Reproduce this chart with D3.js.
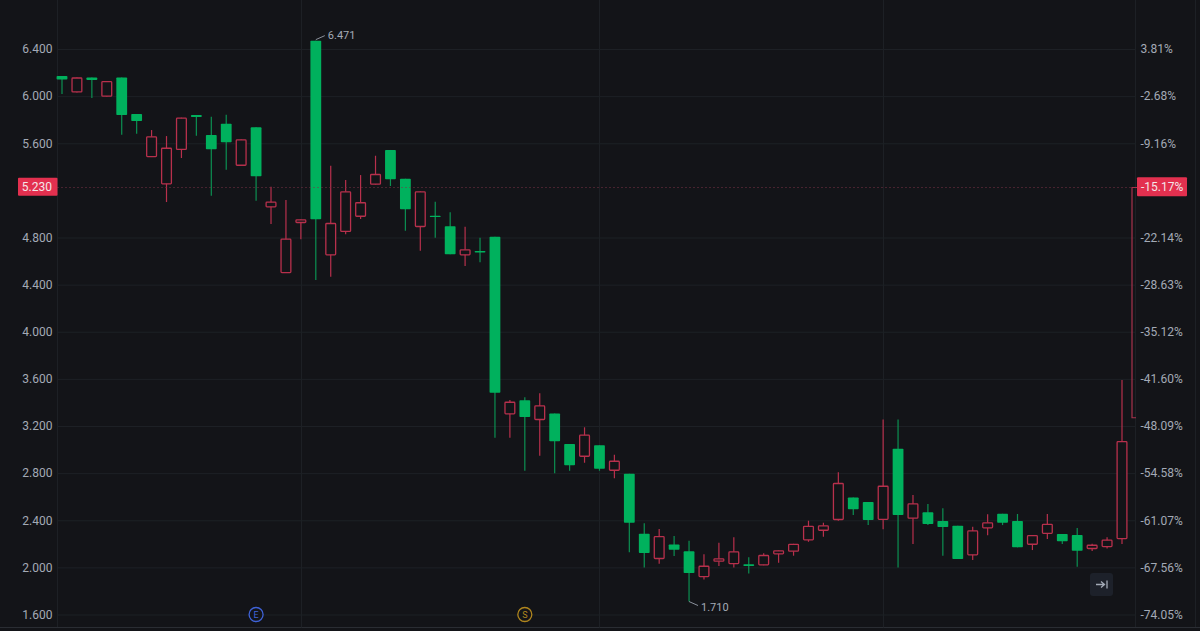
<!DOCTYPE html>
<html>
<head>
<meta charset="utf-8">
<script src="https://cdn.jsdelivr.net/npm/d3@7"></script>
<style>
  html, body { margin: 0; padding: 0; background: #131418; overflow: hidden; }
  text { font-family: Roboto, sans-serif; font-size: 12px; }
  .axis path { display: none; }
  .axis line { stroke: #1d2025; }
  .axis text { fill: #a3aab6; }
</style>
</head>
<body>
<svg id="chart" width="1200" height="631"></svg>
<script>
const opens = [6.171,6.031,6.158,5.995,6.158,5.848,5.483,5.251,5.543,5.840,5.670,5.766,5.409,5.735,5.056,4.498,4.923,6.471,4.649,4.847,4.976,5.248,5.543,5.299,4.889,4.985,4.895,4.649,4.685,4.807,3.299,3.418,3.251,3.307,3.047,2.939,3.036,2.820,2.795,2.285,2.071,2.195,2.136,1.918,2.048,2.028,2.026,2.017,2.110,2.133,2.229,2.311,2.402,2.594,2.555,2.404,3.007,2.413,2.467,2.393,2.353,2.102,2.331,2.455,2.393,2.192,2.285,2.283,2.274,2.156,2.172,2.240]
const closes = [6.141,6.158,6.137,6.128,5.840,5.789,5.659,5.562,5.817,5.823,5.549,5.608,5.633,5.319,5.104,4.790,4.954,4.954,4.923,5.192,5.099,5.339,5.294,5.039,5.192,4.974,4.657,4.700,4.674,3.482,3.406,3.276,3.375,3.070,2.866,3.126,2.837,2.905,2.379,2.122,2.266,2.150,1.952,2.014,2.077,2.136,2.011,2.105,2.144,2.200,2.353,2.357,2.716,2.493,2.402,2.693,2.444,2.543,2.368,2.342,2.071,2.314,2.382,2.379,2.170,2.274,2.370,2.221,2.141,2.192,2.235,3.072]
const highs = [6.171,6.158,6.158,6.128,6.158,5.848,5.712,5.661,5.817,5.840,5.825,5.842,5.633,5.735,5.231,5.118,4.954,6.471,5.409,5.288,5.330,5.494,5.543,5.299,5.192,5.104,5.014,4.892,4.798,4.807,3.420,3.443,3.477,3.307,3.047,3.189,3.036,2.956,2.795,2.374,2.325,2.266,2.226,2.111,2.209,2.255,2.085,2.119,2.144,2.200,2.396,2.379,2.807,2.594,2.555,3.256,3.256,2.614,2.537,2.501,2.353,2.345,2.450,2.455,2.453,2.274,2.453,2.283,2.334,2.200,2.255,3.590]
const lows = [6.018,6.031,5.984,5.995,5.673,5.681,5.483,5.101,5.475,5.664,5.155,5.375,5.409,5.112,4.914,4.498,4.785,4.439,4.467,4.827,4.957,5.248,5.237,4.858,4.688,4.798,4.657,4.558,4.589,3.100,3.100,2.820,2.948,2.798,2.820,2.888,2.820,2.756,2.128,2.000,2.031,2.096,1.710,1.898,2.011,2.000,1.949,2.017,2.039,2.099,2.217,2.260,2.396,2.444,2.359,2.323,2.000,2.198,2.359,2.099,2.071,2.062,2.272,2.359,2.170,2.147,2.240,2.198,2.005,2.139,2.161,2.198]

const priceTicks = [6.4, 6.0, 5.6, 4.8, 4.4, 4.0, 3.6, 3.2, 2.8, 2.4, 2.0, 1.6]
const percentTicks = ['3.81%', '-2.68%', '-9.16%', '-22.14%', '-28.63%', '-35.12%', '-41.60%', '-48.09%', '-54.58%', '-61.07%', '-67.56%', '-74.05%']
const breakIdx = [16, 36, 55]
const markers = [{idx: 13, label: 'E', color: '#3f63d8'}, {idx: 31, label: 'S', color: '#b0861e'}]
const lastPrice = 5.230
const lastPercent = '-15.17%'
const stepPrices = [3.27, 5.23]
const highestIdx = 17
const lowestIdx = 42

const GREEN = '#00b15d'
const RED = '#b8304c'
const LABEL_RED = '#e3304f'
const GRID = '#1d2025'

const svg = d3.select('#chart')
const left = 57.5, right = 1135.5, bottom = 627.5
const x = d3.scaleLinear().domain([0, opens.length - 1]).range([62, 1122])
const y = d3.scaleLinear().domain([6.4, 1.6]).range([49, 614.5])

svg.append('rect').attr('width', 1200).attr('height', 631).attr('fill', '#131418')

// frame + month breaks
const frame = svg.append('g').attr('stroke', GRID).attr('fill', 'none')
frame.append('line').attr('x1', left).attr('x2', left).attr('y1', 0).attr('y2', bottom)
frame.append('line').attr('x1', right).attr('x2', right).attr('y1', 0).attr('y2', bottom)
frame.append('line').attr('x1', 1195.5).attr('x2', 1195.5).attr('y1', 0).attr('y2', bottom)
frame.append('line').attr('x1', 0).attr('x2', 1200).attr('y1', bottom).attr('y2', bottom).attr('stroke', '#2a2d33')
frame.selectAll('line.brk').data(breakIdx).join('line')
  .attr('class', 'brk')
  .attr('x1', d => Math.round(x(d)) + 0.5)
  .attr('x2', d => Math.round(x(d)) + 0.5)
  .attr('y1', 0).attr('y2', bottom)

// price axis, grid lines come from its ticks
svg.append('g')
  .attr('class', 'axis')
  .attr('transform', `translate(${left},0)`)
  .call(d3.axisRight(y).tickValues(priceTicks).tickSize(right - left).tickFormat(() => ''))
svg.append('g')
  .attr('class', 'axis')
  .attr('transform', `translate(${left},0)`)
  .call(d3.axisLeft(y).tickValues(priceTicks).tickSize(0).tickPadding(5).tickFormat(d3.format('.3f')))
svg.append('g')
  .attr('class', 'axis')
  .attr('transform', `translate(${right},0)`)
  .call(d3.axisRight(y).tickValues(priceTicks).tickSize(0).tickPadding(5).tickFormat((d, i) => percentTicks[i]))

// candles
const candles = svg.append('g').selectAll('g').data(d3.range(opens.length)).join('g')
const isUp = i => closes[i] > opens[i]
const bodyTop = i => y(Math.max(opens[i], closes[i]))
const bodyBottom = i => y(Math.min(opens[i], closes[i]))
candles.append('line')
  .attr('x1', i => x(i)).attr('x2', i => x(i))
  .attr('y1', i => y(highs[i])).attr('y2', i => y(lows[i]))
  .attr('stroke', i => isUp(i) ? RED : '#0c9052')
  .attr('stroke-width', 1.2)
candles.append('rect')
  .attr('x', i => isUp(i) ? x(i) - 4.9 : x(i) - 5.4)
  .attr('width', i => isUp(i) ? 9.8 : 10.8)
  .attr('y', i => isUp(i) ? bodyTop(i) + 0.5 : bodyTop(i))
  .attr('height', i => Math.max(bodyBottom(i) - bodyTop(i) - (isUp(i) ? 1 : 0), 1.4))
  .attr('rx', 0.8)
  .attr('fill', i => isUp(i) ? '#131418' : GREEN)
  .attr('stroke', i => isUp(i) ? RED : 'none')
  .attr('stroke-width', 1.3)

// extreme labels
const note = svg.append('g')
note.append('path')
  .attr('d', `M${x(highestIdx)},${y(highs[highestIdx]) - 1}L${x(highestIdx) + 9},${y(highs[highestIdx]) - 5}`)
  .attr('stroke', '#8a909b').attr('fill', 'none')
note.append('text').attr('x', x(highestIdx) + 12).attr('y', y(highs[highestIdx]) - 2)
  .attr('fill', '#a3aab6').style('font-size', '11px').text(d3.format('.3f')(highs[highestIdx]))
note.append('path')
  .attr('d', `M${x(lowestIdx)},${y(lows[lowestIdx])}L${x(lowestIdx) + 9},${y(lows[lowestIdx]) + 4}`)
  .attr('stroke', '#8a909b').attr('fill', 'none')
note.append('text').attr('x', x(lowestIdx) + 12).attr('y', y(lows[lowestIdx]) + 9)
  .attr('fill', '#a3aab6').style('font-size', '11px').text(d3.format('.3f')(lows[lowestIdx]))

// last price line and step on the right
const lastY = Math.round(y(lastPrice)) + 0.5
svg.append('line')
  .attr('x1', left).attr('x2', 1132)
  .attr('y1', lastY).attr('y2', lastY)
  .attr('stroke', '#7d3346').attr('stroke-dasharray', '1 3')
svg.append('path')
  .attr('d', `M1136,${y(stepPrices[0])}H1132V${lastY}H1137`)
  .attr('stroke', '#a8324c').attr('stroke-width', 1.2).attr('fill', 'none')
svg.append('rect').attr('x', 18).attr('y', y(lastPrice) - 9).attr('width', 39.5).attr('height', 18).attr('rx', 1).attr('fill', LABEL_RED)
svg.append('text').attr('x', 52).attr('y', y(lastPrice) + 4.5).attr('text-anchor', 'end').attr('fill', '#f3e6e9').text(d3.format('.3f')(lastPrice))
svg.append('rect').attr('x', 1137).attr('y', y(lastPrice) - 9.5).attr('width', 50).attr('height', 19).attr('rx', 1).attr('fill', LABEL_RED)
svg.append('text').attr('x', 1141).attr('y', y(lastPrice) + 4.5).attr('fill', '#f3e6e9').text(lastPercent)

// earnings / split markers
const mark = svg.append('g').selectAll('g').data(markers).join('g')
  .attr('transform', d => `translate(${x(d.idx)},${y(1.6)})`)
mark.append('circle').attr('r', 7).attr('fill', '#131418').attr('stroke', d => d.color).attr('stroke-width', 1.3)
mark.append('text').attr('text-anchor', 'middle').attr('y', 3.5)
  .style('font-size', '9px').attr('fill', d => d.color).text(d => d.label)

// scroll to latest button
const btn = svg.append('g').attr('transform', 'translate(1090,573)')
btn.append('rect').attr('width', 23).attr('height', 23).attr('rx', 3).attr('fill', '#1d212a')
btn.append('path').attr('d', 'M6,11.5H14M11,8.5L14.5,11.5L11,14.5M17,7.5V15.5')
  .attr('stroke', '#a3aab6').attr('stroke-width', 1.3).attr('fill', 'none')
</script>
</body>
</html>
